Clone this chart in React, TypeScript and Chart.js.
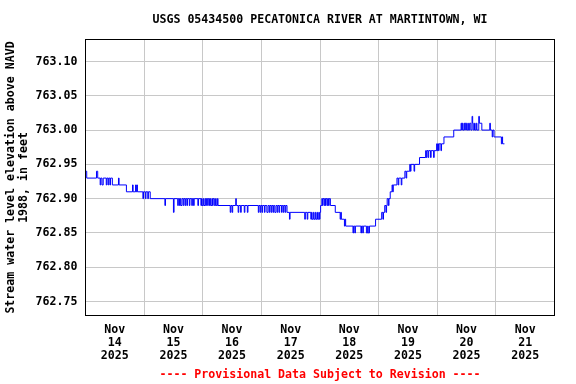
import React, { useEffect, useRef } from "react";
import { Chart, registerables } from "chart.js";

Chart.register(...registerables);

const chartTitle = "USGS 05434500 PECATONICA RIVER AT MARTINTOWN, WI";
const yAxisTitle = ["Stream water level elevation above NAVD", "1988, in feet"];
const footerText = "---- Provisional Data Subject to Revision ----";
const monthLabel = "Nov";
const yearLabel = "2025";
const dayLabels = ["14", "15", "16", "17", "18", "19", "20", "21"];
const yTickValues = [762.75, 762.8, 762.85, 762.9, 762.95, 763.0, 763.05, 763.1];
const yMin = 762.7296;
const yMax = 763.1321;

// [hours since Nov 14 00:00, gage height in feet] — value holds until the next entry
const levelSteps: [number, number][] = [
  [0, 762.94], [0.5, 762.93], [4.5, 762.94], [5.0, 762.93], [6.0, 762.92], [6.25, 762.93],
  [6.75, 762.92], [7.25, 762.93], [8.5, 762.92], [8.75, 762.93], [9.25, 762.92], [9.5, 762.93],
  [10.0, 762.92], [10.25, 762.93], [11.0, 762.92], [13.5, 762.93], [13.75, 762.92], [16.75, 762.91],
  [19.25, 762.92], [19.5, 762.91], [20.5, 762.92], [20.75, 762.91], [21.0, 762.92], [21.25, 762.91],
  [23.5, 762.9], [23.75, 762.91], [24.5, 762.9], [24.75, 762.91], [25.5, 762.9], [25.75, 762.91],
  [26.5, 762.9],
  [32.5, 762.89], [32.75, 762.9], [36.0, 762.88], [36.25, 762.9], [37.75, 762.89], [38.0, 762.9],
  [38.5, 762.89], [38.75, 762.9], [39.0, 762.89], [39.5, 762.9], [40.0, 762.89], [40.25, 762.9],
  [40.75, 762.89], [41.0, 762.9], [41.5, 762.89], [41.75, 762.9], [42.5, 762.89], [42.75, 762.9],
  [43.5, 762.89], [43.75, 762.9], [44.25, 762.89], [44.5, 762.9], [46.0, 762.89], [46.25, 762.9],
  [47.25, 762.89], [47.5, 762.9], [47.75, 762.89], [48.25, 762.9], [48.5, 762.89], [49.0, 762.9],
  [49.25, 762.89], [49.5, 762.9], [50.0, 762.89], [50.25, 762.9], [50.75, 762.89], [51.0, 762.9],
  [51.25, 762.89], [51.75, 762.9], [52.0, 762.89], [52.25, 762.9], [52.75, 762.89], [53.25, 762.9],
  [53.5, 762.89], [54.0, 762.9], [54.25, 762.89],
  [59.25, 762.88], [59.5, 762.89], [60.0, 762.88], [60.25, 762.89], [61.5, 762.9], [61.75, 762.89],
  [62.5, 762.88], [62.75, 762.89], [63.5, 762.88], [63.75, 762.89], [65.0, 762.88], [65.25, 762.89],
  [66.25, 762.88], [66.5, 762.89],
  [70.75, 762.88], [71.0, 762.89], [71.5, 762.88], [71.75, 762.89], [72.25, 762.88], [72.5, 762.89],
  [73.25, 762.88], [73.5, 762.89], [74.25, 762.88], [74.75, 762.89], [75.25, 762.88], [75.5, 762.89],
  [76.0, 762.88], [76.25, 762.89], [76.75, 762.88], [77.0, 762.89], [77.5, 762.88], [78.0, 762.89],
  [78.5, 762.88], [78.75, 762.89], [79.25, 762.88], [79.5, 762.89], [80.25, 762.88], [80.5, 762.89],
  [81.0, 762.88], [81.25, 762.89], [81.75, 762.88], [82.0, 762.89], [82.5, 762.88],
  [83.5, 762.87], [83.75, 762.88], [89.75, 762.87], [90.0, 762.88], [90.75, 762.87], [91.0, 762.88],
  [92.25, 762.87], [92.5, 762.88], [92.75, 762.87], [93.25, 762.88], [93.5, 762.87], [94.0, 762.88],
  [94.25, 762.87], [94.75, 762.88], [95.0, 762.87], [95.5, 762.88], [95.75, 762.87],
  [96.0, 762.88], [96.25, 762.89], [96.75, 762.9], [97.0, 762.89], [97.25, 762.9], [97.75, 762.89],
  [98.0, 762.9], [98.25, 762.89], [98.5, 762.9], [99.0, 762.89], [99.25, 762.9], [99.5, 762.89],
  [99.75, 762.9], [100.25, 762.89],
  [102.25, 762.88], [104.25, 762.87], [104.5, 762.88], [104.75, 762.87], [106.0, 762.86],
  [106.25, 762.87], [106.5, 762.86],
  [109.5, 762.85], [109.75, 762.86], [110.25, 762.85], [110.5, 762.86], [112.75, 762.85],
  [113.0, 762.86], [113.5, 762.85], [113.75, 762.86], [115.0, 762.85], [115.5, 762.86],
  [115.75, 762.85], [116.25, 762.86],
  [118.75, 762.87], [121.25, 762.88], [121.75, 762.87], [122.0, 762.88], [122.5, 762.89],
  [123.0, 762.88], [123.25, 762.89], [123.5, 762.9], [124.0, 762.89], [124.25, 762.9],
  [124.75, 762.91], [125.5, 762.92], [125.75, 762.91], [126.0, 762.92], [127.5, 762.93],
  [128.0, 762.92], [128.25, 762.93], [129.25, 762.92], [129.5, 762.93], [130.75, 762.94],
  [131.25, 762.93], [131.5, 762.94], [132.75, 762.95], [133.0, 762.94], [133.25, 762.95],
  [134.5, 762.94], [134.75, 762.95], [136.75, 762.96],
  [139.25, 762.97], [139.5, 762.96], [139.75, 762.97], [140.25, 762.96], [140.5, 762.97],
  [141.25, 762.96], [141.5, 762.97], [142.5, 762.96], [142.75, 762.97], [143.75, 762.98],
  [144.0, 762.97], [144.25, 762.98], [144.5, 762.97], [144.75, 762.98], [145.5, 762.97],
  [145.75, 762.98], [146.75, 762.99], [150.75, 763.0],
  [153.75, 763.01], [154.0, 763.0], [154.25, 763.01], [154.5, 763.0], [155.0, 763.01],
  [155.25, 763.0], [155.5, 763.01], [156.0, 763.0], [156.5, 763.01], [156.75, 763.0],
  [157.25, 763.01], [157.75, 763.0], [158.25, 763.02], [158.5, 763.01], [158.75, 763.0],
  [159.25, 763.01], [159.5, 763.0], [160.0, 763.01], [160.25, 763.0], [161.0, 763.02],
  [161.25, 763.01], [162.25, 763.0], [165.5, 763.01], [165.75, 763.0], [166.5, 762.99],
  [166.75, 763.0], [167.25, 762.99], [170.25, 762.98], [170.5, 762.99], [170.75, 762.98],
  [171.5, 762.98],
];

const FONT_FAMILY = '"DejaVu Sans Mono", "Liberation Mono", monospace';
const GRID_COLOR = "#c8c8c8";
const HOURS_PER_DAY = 24;

const borderPlugin = {
  id: "plotBorder",
  afterDraw(chart: any) {
    const { ctx, chartArea } = chart;
    ctx.save();
    ctx.strokeStyle = "#000000";
    ctx.lineWidth = 1;
    ctx.strokeRect(chartArea.left, chartArea.top, chartArea.width, chartArea.height);
    ctx.restore();
  },
};

export default function App() {
  const canvasRef = useRef<HTMLCanvasElement | null>(null);

  useEffect(() => {
    if (!canvasRef.current) return;
    const font = { family: FONT_FAMILY, weight: "bold" as const, size: 11.6, lineHeight: "13px" };
    const xMax = dayLabels.length * HOURS_PER_DAY;

    const chart = new Chart(canvasRef.current, {
      type: "line",
      data: {
        datasets: [
          {
            data: levelSteps.map(([h, v]) => ({ x: h, y: v })),
            borderColor: "#0000ff",
            borderWidth: 1,
            pointRadius: 0,
            stepped: true,
            fill: false,
            tension: 0,
          },
        ],
      },
      options: {
        animation: false,
        responsive: false,
        devicePixelRatio: 1,
        layout: { padding: { left: 0, right: 21.5, top: 0, bottom: 0 } },
        plugins: {
          legend: { display: false },
          tooltip: { enabled: false },
          title: {
            display: true,
            text: chartTitle,
            fullSize: false,
            color: "#000000",
            font,
            padding: { top: 13.5, bottom: 13 },
          },
        },
        scales: {
          x: {
            type: "linear",
            position: "bottom",
            min: 0,
            max: xMax,
            afterBuildTicks: (scale: any) => {
              const ticks: { value: number }[] = [];
              dayLabels.forEach((_, i) => {
                ticks.push({ value: i * HOURS_PER_DAY + HOURS_PER_DAY / 2 });
                if (i < dayLabels.length - 1) ticks.push({ value: (i + 1) * HOURS_PER_DAY });
              });
              scale.ticks = ticks;
            },
            afterFit: (scale: any) => {
              scale.height = 68.5;
            },
            ticks: {
              autoSkip: false,
              maxRotation: 0,
              minRotation: 0,
              padding: 8,
              color: "#000000",
              font,
              callback: (value: any) => {
                const v = Number(value);
                if (v % HOURS_PER_DAY === HOURS_PER_DAY / 2) {
                  const idx = Math.round((v - HOURS_PER_DAY / 2) / HOURS_PER_DAY);
                  return [monthLabel, dayLabels[idx], yearLabel];
                }
                return "";
              },
            },
            grid: {
              drawTicks: false,
              lineWidth: 1,
              color: (ctx: any) =>
                ctx.tick && ctx.tick.value % HOURS_PER_DAY === 0 ? GRID_COLOR : "rgba(0,0,0,0)",
            },
            border: { display: false },
            title: {
              display: true,
              text: footerText,
              color: "#ff0000",
              font,
              padding: { top: 0, bottom: 2.5 },
            },
          },
          y: {
            type: "linear",
            position: "left",
            min: yMin,
            max: yMax,
            afterBuildTicks: (scale: any) => {
              scale.ticks = yTickValues.map((v) => ({ value: v }));
            },
            afterFit: (scale: any) => {
              scale.width = 85.5;
            },
            ticks: {
              padding: 8,
              color: "#000000",
              font,
              callback: (value: any) => Number(value).toFixed(2),
            },
            grid: { drawTicks: false, color: GRID_COLOR, lineWidth: 1 },
            border: { display: false },
            title: {
              display: true,
              text: yAxisTitle,
              color: "#000000",
              font,
              padding: { top: 4.5, bottom: 0 },
            },
          },
        },
      },
      plugins: [borderPlugin],
    } as any);

    return () => chart.destroy();
  }, []);

  return (
    <div style={{ position: "absolute", left: 0, top: 0, width: 576, height: 384, background: "#ffffff" }}>
      <canvas ref={canvasRef} width={576} height={384} style={{ display: "block" }} />
    </div>
  );
}
